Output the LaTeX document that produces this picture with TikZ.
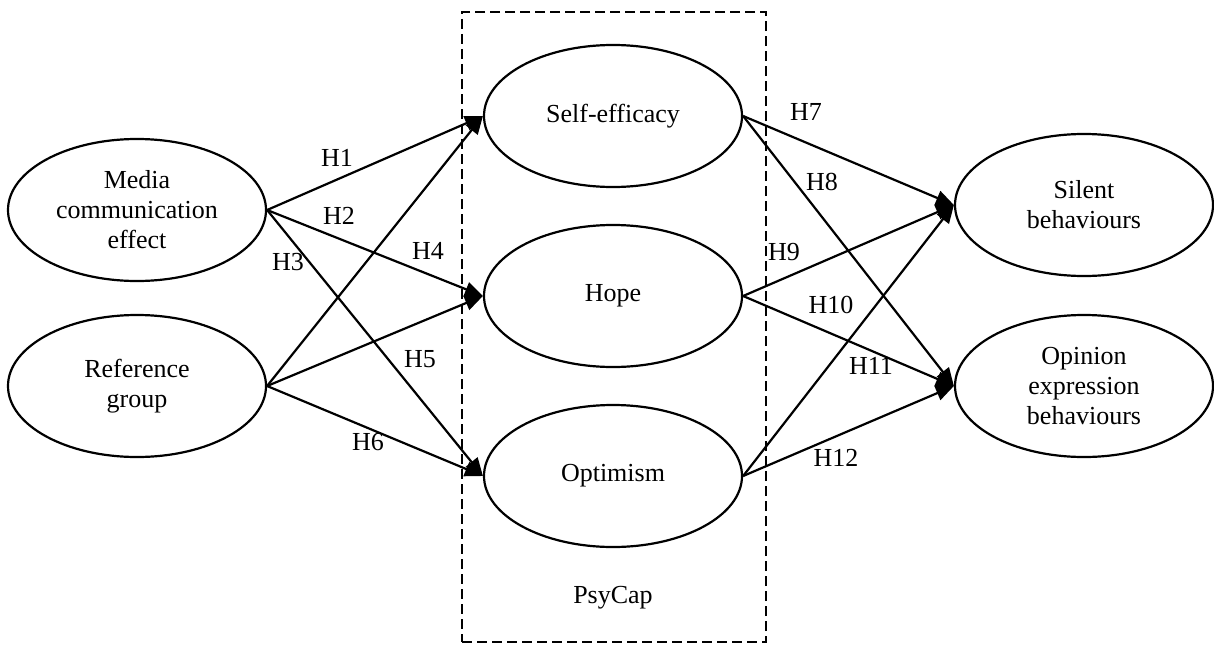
\documentclass[tikz,border=0pt]{standalone}
\usepackage{fontspec}
\setmainfont{Liberation Serif}
\usetikzlibrary{shapes.geometric,arrows.meta}
\begin{document}
\begin{tikzpicture}[x=0.5pt,y=-0.5pt,
  font=\fontsize{13}{15}\selectfont,
  construct/.style={ellipse,draw,line width=1.1pt,minimum width=129pt,minimum height=71pt,inner sep=0pt,align=center},
  path/.style={line width=1.1pt,-{Triangle[length=9pt,width=7.5pt]}},
  hlab/.style={inner sep=0pt}]
\useasboundingbox (0,0) rectangle (1214,648);
\node[draw,line width=1.1pt,dash pattern=on 5pt off 2.5pt,minimum width=152pt,minimum height=315pt,inner sep=0pt] (box) at (614,327) {};
\node (psycap) at (613,598) {PsyCap};
\node[construct] (media) at (137,210) {Media\\communication\\effect};
\node[construct] (ref) at (137,386) {Reference\\group};
\node[construct] (self) at (613,116) {Self-efficacy};
\node[construct] (hope) at (613,296) {Hope};
\node[construct] (opt) at (613,476) {Optimism};
\node[construct] (silent) at (1084,205) {Silent\\behaviours};
\node[construct] (opinion) at (1084,386) {Opinion\\expression\\behaviours};
\draw[path] (media.east) -- (self.west);
\draw[path] (media.east) -- (hope.west);
\draw[path] (media.east) -- (opt.west);
\draw[path] (ref.east) -- (self.west);
\draw[path] (ref.east) -- (hope.west);
\draw[path] (ref.east) -- (opt.west);
\draw[path] (self.east) -- (silent.west);
\draw[path] (self.east) -- (opinion.west);
\draw[path] (hope.east) -- (silent.west);
\draw[path] (hope.east) -- (opinion.west);
\draw[path] (opt.east) -- (silent.west);
\draw[path] (opt.east) -- (opinion.west);
\node[hlab] (h1) at (337,158) {H1};
\node[hlab] (h2) at (339,216) {H2};
\node[hlab] (h3) at (288,262) {H3};
\node[hlab] (h4) at (428,251) {H4};
\node[hlab] (h5) at (420,359) {H5};
\node[hlab] (h6) at (368,442) {H6};
\node[hlab] (h7) at (806,112) {H7};
\node[hlab] (h8) at (822,182) {H8};
\node[hlab] (h9) at (784,252) {H9};
\node[hlab] (h10) at (831,305) {H10};
\node[hlab] (h11) at (871,366) {H11};
\node[hlab] (h12) at (836,458) {H12};
\end{tikzpicture}
\end{document}
